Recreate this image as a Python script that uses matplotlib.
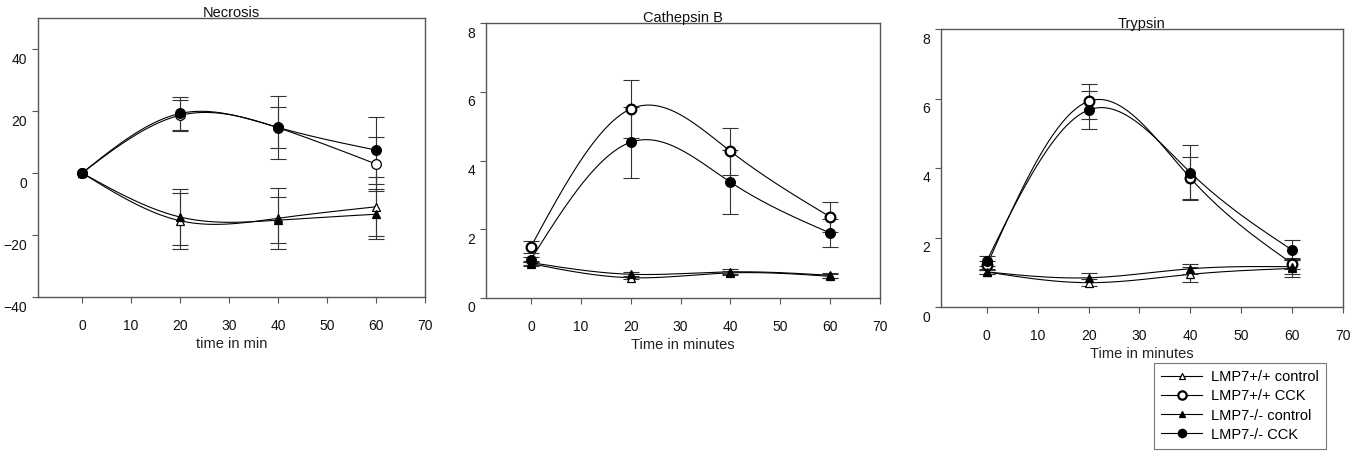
import numpy as np
import matplotlib
matplotlib.use("Agg")
import matplotlib.pyplot as plt
from matplotlib.lines import Line2D
from matplotlib.transforms import ScaledTranslation

plt.rcParams['font.family'] = ['Liberation Sans', 'DejaVu Sans']

# ---------------- data ----------------
time = [0, 20, 40, 60]
series_labels = ["LMP7+/+ control", "LMP7+/+ CCK", "LMP7-/- control", "LMP7-/- CCK"]
panel_titles = ["Necrosis", "Cathepsin B", "Trypsin"]
panel_xlabels = ["time in min", "Time in minutes", "Time in minutes"]
x_ticks = [0, 10, 20, 30, 40, 50, 60, 70]
necrosis_yticks = [-40, -20, 0, 20, 40]
enzyme_yticks = [0, 2, 4, 6, 8]

# Necrosis
nec_wt_ctrl = [0, -15.4, -14.6, -10.9]
nec_wt_ctrl_err = [0, 9.0, 9.8, 9.5]
nec_wt_cck = [0, 18.6, 14.6, 2.9]
nec_wt_cck_err = [0, 4.9, 6.6, 8.6]
nec_ko_ctrl = [0, -14.2, -15.2, -13.3]
nec_ko_ctrl_err = [0, 9.0, 7.3, 8.0]
nec_ko_cck = [0, 19.2, 14.7, 7.4]
nec_ko_cck_err = [0, 5.2, 10.3, 10.8]

# Cathepsin B
cat_wt_ctrl = [1.00, 0.59, 0.73, 0.63]
cat_wt_ctrl_err = [0.06, 0.05, 0.06, 0.06]
cat_wt_cck = [1.49, 5.50, 4.27, 2.36]
cat_wt_cck_err = [0.17, 0.84, 0.68, 0.44]
cat_ko_ctrl = [1.03, 0.69, 0.76, 0.66]
cat_ko_ctrl_err = [0.06, 0.07, 0.07, 0.07]
cat_ko_cck = [1.12, 4.53, 3.37, 1.89]
cat_ko_cck_err = [0.08, 1.03, 0.94, 0.42]

# Trypsin
try_wt_ctrl = [1.01, 0.70, 0.94, 1.11]
try_wt_ctrl_err = [0.05, 0.10, 0.22, 0.25]
try_wt_cck = [1.20, 5.92, 3.71, 1.25]
try_wt_cck_err = [0.12, 0.51, 0.60, 0.15]
try_ko_ctrl = [1.01, 0.84, 1.10, 1.16]
try_ko_ctrl_err = [0.05, 0.13, 0.15, 0.22]
try_ko_cck = [1.33, 5.67, 3.87, 1.64]
try_ko_cck_err = [0.15, 0.56, 0.78, 0.30]


def natural_spline(x, y, n=300):
    x = np.asarray(x, float)
    y = np.asarray(y, float)
    k = len(x)
    h = np.diff(x)
    A = np.zeros((k, k))
    r = np.zeros(k)
    A[0, 0] = 1
    A[-1, -1] = 1
    for i in range(1, k - 1):
        A[i, i - 1] = h[i - 1]
        A[i, i] = 2 * (h[i - 1] + h[i])
        A[i, i + 1] = h[i]
        r[i] = 6 * ((y[i + 1] - y[i]) / h[i] - (y[i] - y[i - 1]) / h[i - 1])
    M = np.linalg.solve(A, r)
    xs = np.linspace(x[0], x[-1], n)
    idx = np.clip(np.searchsorted(x, xs) - 1, 0, k - 2)
    x0, x1 = x[idx], x[idx + 1]
    hh = x1 - x0
    ys = (M[idx] * (x1 - xs) ** 3 / (6 * hh) + M[idx + 1] * (xs - x0) ** 3 / (6 * hh)
          + (y[idx] / hh - M[idx] * hh / 6) * (x1 - xs)
          + (y[idx + 1] / hh - M[idx + 1] * hh / 6) * (xs - x0))
    return xs, ys


W, H = 1355, 459
fig = plt.figure(figsize=(W / 100, H / 100), dpi=100)

rects = [(38, 18, 425, 297), (486, 23, 880, 298), (941, 29, 1343, 307)]
panels = [
    [(nec_wt_ctrl, nec_wt_ctrl_err), (nec_wt_cck, nec_wt_cck_err),
     (nec_ko_ctrl, nec_ko_ctrl_err), (nec_ko_cck, nec_ko_cck_err)],
    [(cat_wt_ctrl, cat_wt_ctrl_err), (cat_wt_cck, cat_wt_cck_err),
     (cat_ko_ctrl, cat_ko_ctrl_err), (cat_ko_cck, cat_ko_cck_err)],
    [(try_wt_ctrl, try_wt_ctrl_err), (try_wt_cck, try_wt_cck_err),
     (try_ko_ctrl, try_ko_ctrl_err), (try_ko_cck, try_ko_cck_err)],
]
ylims = [(-40, 50), (0, 8), (0, 8)]
yticks = [necrosis_yticks, enzyme_yticks, enzyme_yticks]

frame_col = '#555555'


def marker_styles(bold):
    return [
        dict(marker='^', ms=6, mfc='white', mec='black', mew=0.9),
        dict(marker='o', ms=7, mfc='white', mec='black', mew=1.6 if bold else 0.9),
        dict(marker='^', ms=6, mfc='black', mec='black', mew=0.9),
        dict(marker='o', ms=7, mfc='black', mec='black', mew=0.9),
    ]


for p, (l, t, r, b) in enumerate(rects):
    ax = fig.add_axes([l / W, 1 - b / H, (r - l) / W, (b - t) / H])
    styles = marker_styles(p > 0)
    for (vals, errs), st in zip(panels[p], styles):
        xs, ys = natural_spline(time, vals)
        ax.plot(xs, ys, color='black', lw=0.8, zorder=2)
        tt = [tv for tv, e in zip(time, errs) if e > 0]
        vv = [v for v, e in zip(vals, errs) if e > 0]
        ee = [e for e in errs if e > 0]
        ax.errorbar(tt, vv, yerr=ee, fmt='none', ecolor='#333333',
                    elinewidth=0.8, capsize=6, capthick=0.8, zorder=3)
        ax.plot(time, vals, linestyle='none', zorder=4, **st)
    ax.set_xlim(-9, 70)
    ax.set_ylim(*ylims[p])
    ax.set_xticks(x_ticks)
    ax.set_yticks(yticks[p])
    for s in ax.spines.values():
        s.set_color(frame_col)
        s.set_linewidth(1.0)
    ax.tick_params(axis='both', direction='out', length=4, width=0.8,
                   color=frame_col, labelsize=10, labelcolor='#111111')
    ax.tick_params(axis='x', pad=12)
    ax.tick_params(axis='y', pad=4)
    off = ScaledTranslation(0, -9 / 100, fig.dpi_scale_trans)
    for lab in ax.get_yticklabels():
        lab.set_transform(lab.get_transform() + off)
    ax.text(0.5, 1.0 + 5 / (b - t), panel_titles[p], transform=ax.transAxes,
            ha='center', va='center', fontsize=10.5, color='#111111')
    ax.set_xlabel(panel_xlabels[p], fontsize=10.5, color='#222222')
    ax.xaxis.set_label_coords(0.5, -40 / (b - t))

handles = []
for st in marker_styles(True):
    st = dict(st)
    st['ms'] = st['ms'] - 1
    handles.append(Line2D([], [], color='black', lw=0.8, **st))
leg = fig.legend(handles, series_labels, loc='upper left',
                 bbox_to_anchor=(1154 / W, 1 - 363 / H), frameon=True, fancybox=False,
                 edgecolor=frame_col, fontsize=10.5, handlelength=2.8,
                 labelspacing=0.35, borderaxespad=0, borderpad=0.5, handletextpad=0.6)
leg.get_frame().set_linewidth(0.8)

fig.savefig("out.png", dpi=100)
